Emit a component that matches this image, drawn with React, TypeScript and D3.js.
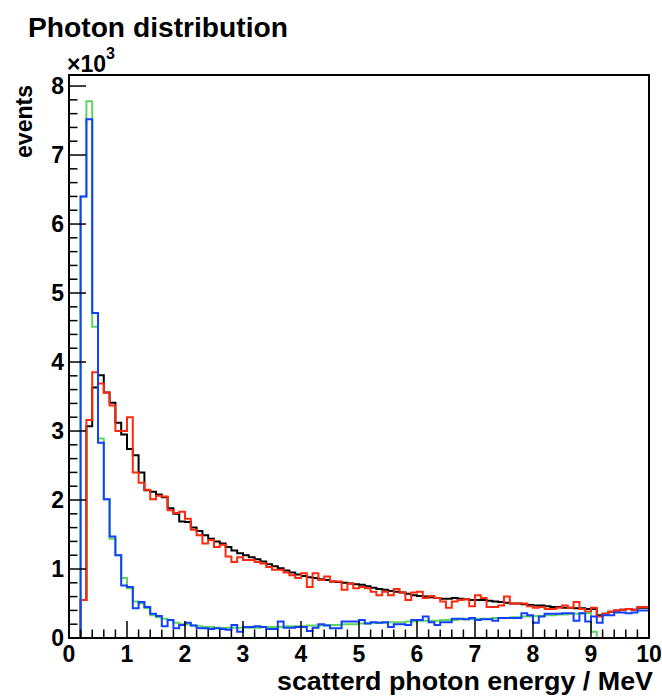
import React from "react";
import * as d3 from "d3";

// Histogram: 100 bins of 0.1 MeV from 0 to 10 MeV; values in thousands of events
const binWidth = 0.1;
const xDomain = [0, 10];
const yDomain = [0, 8.16];
const xTicks = [0, 1, 2, 3, 4, 5, 6, 7, 8, 9, 10];
const yTicks = [0, 1, 2, 3, 4, 5, 6, 7, 8];

const blackValues = [
  0, 0, 0.55, 3.07, 3.63, 3.81, 3.56, 3.41, 3.12, 2.95,
  2.74, 2.65, 2.4, 2.14, 2.12, 2.08, 2.04, 1.88, 1.8, 1.69,
  1.68, 1.6, 1.55, 1.49, 1.44, 1.4, 1.37, 1.32, 1.27, 1.23,
  1.2, 1.17, 1.14, 1.11, 1.07, 1.04, 1.01, 0.98, 0.95, 0.92,
  0.9, 0.88, 0.87, 0.85, 0.84, 0.82, 0.81, 0.8, 0.79, 0.78,
  0.77, 0.75, 0.73, 0.71, 0.7, 0.68, 0.67, 0.66, 0.64, 0.62,
  0.61, 0.6, 0.59, 0.58, 0.57, 0.57, 0.58, 0.57, 0.56, 0.55,
  0.55, 0.55, 0.54, 0.53, 0.52, 0.51, 0.5, 0.5, 0.49, 0.48,
  0.47, 0.47, 0.46, 0.45, 0.45, 0.44, 0.44, 0.43, 0.43, 0.42,
  0.42, 0.33, 0.35, 0.38, 0.4, 0.41, 0.42, 0.41, 0.44, 0.44,
];

const redValues = [
  0, 0, 0.55, 3.16, 3.85, 3.69, 3.56, 3.37, 3.0, 3.0,
  3.2, 2.4, 2.25, 2.15, 2.01, 2.06, 2.05, 1.85, 1.81, 1.83,
  1.73, 1.57, 1.49, 1.37, 1.42, 1.32, 1.35, 1.18, 1.1, 1.17,
  1.13, 1.13, 1.1, 1.08, 1.03, 0.99, 0.99, 0.95, 0.91, 0.87,
  0.94, 0.74, 0.94, 0.84, 0.89, 0.82, 0.82, 0.7, 0.79, 0.72,
  0.74, 0.72, 0.67, 0.62, 0.67, 0.62, 0.71, 0.66, 0.55, 0.66,
  0.67, 0.58, 0.61, 0.58, 0.53, 0.44, 0.53, 0.55, 0.56, 0.46,
  0.62, 0.58, 0.45, 0.45, 0.47, 0.6, 0.5, 0.5, 0.5, 0.46,
  0.44, 0.45, 0.42, 0.42, 0.44, 0.47, 0.44, 0.52, 0.42, 0.38,
  0.44, 0.31, 0.35, 0.38, 0.4, 0.41, 0.42, 0.41, 0.45, 0.45,
];

const greenValues = [
  0, 0, 6.4, 7.78, 4.51, 2.89, 2.01, 1.44, 1.2, 0.87,
  0.72, 0.53, 0.5, 0.43, 0.33, 0.3, 0.28, 0.26, 0.22, 0.2,
  0.2, 0.18, 0.17, 0.16, 0.16, 0.15, 0.15, 0.15, 0.15, 0.15,
  0.15, 0.15, 0.15, 0.16, 0.16, 0.16, 0.16, 0.17, 0.17, 0.17,
  0.17, 0.18, 0.18, 0.18, 0.19, 0.19, 0.19, 0.2, 0.2, 0.2,
  0.21, 0.21, 0.22, 0.22, 0.22, 0.23, 0.23, 0.23, 0.24, 0.24,
  0.25, 0.25, 0.25, 0.25, 0.26, 0.26, 0.26, 0.27, 0.27, 0.27,
  0.28, 0.28, 0.28, 0.29, 0.29, 0.29, 0.3, 0.3, 0.31, 0.31,
  0.32, 0.32, 0.33, 0.33, 0.34, 0.34, 0.35, 0.35, 0.36, 0.36,
  0.09, 0, 0, 0, 0, 0, 0, 0, 0, 0,
];

const blueValues = [
  0, 0, 6.4, 7.52, 4.71, 2.83, 2.01, 1.47, 1.2, 0.76,
  0.74, 0.43, 0.52, 0.45, 0.35, 0.32, 0.17, 0.26, 0.14, 0.19,
  0.22, 0.18, 0.14, 0.14, 0.13, 0.14, 0.13, 0.12, 0.19, 0.09,
  0.16, 0.16, 0.17, 0.16, 0.13, 0.13, 0.24, 0.15, 0.15, 0.16,
  0.16, 0.1, 0.15, 0.2, 0.18, 0.14, 0.14, 0.24, 0.24, 0.24,
  0.26, 0.21, 0.23, 0.22, 0.23, 0.16, 0.2, 0.2, 0.19, 0.26,
  0.26, 0.31, 0.23, 0.19, 0.23, 0.23, 0.28, 0.28, 0.27, 0.29,
  0.26, 0.27, 0.27, 0.25, 0.29, 0.29, 0.29, 0.29, 0.36, 0.33,
  0.22, 0.31, 0.35, 0.35, 0.35, 0.36, 0.36, 0.25, 0.36, 0.24,
  0.31, 0.22, 0.33, 0.33, 0.37, 0.37, 0.36, 0.37, 0.4, 0.4,
];

const seriesList = [
  { name: "black", values: blackValues, color: "#000000" },
  { name: "red", values: redValues, color: "#ff2a0e" },
  { name: "green", values: greenValues, color: "#5ed65e" },
  { name: "blue", values: blueValues, color: "#1240ff" },
];

const W = 662;
const H = 696;
const frame = { left: 69, right: 649, top: 75, bottom: 638 };
const FONT = "'Liberation Sans', Arial, Helvetica, sans-serif";

export default function App() {
  const x = d3.scaleLinear().domain(xDomain).range([frame.left, frame.right]);
  const y = d3.scaleLinear().domain(yDomain).range([frame.bottom, frame.top]);

  const line = d3
    .line<[number, number]>()
    .x((d) => x(d[0]))
    .y((d) => y(d[1]));

  const stepPath = (values: number[]) => {
    const pts: [number, number][] = [[0, 0]];
    values.forEach((v, i) => {
      pts.push([i * binWidth, v]);
      pts.push([(i + 1) * binWidth, v]);
    });
    pts.push([values.length * binWidth, 0]);
    return line(pts) || "";
  };

  const majorLen = 17;
  const minorLen = 8.5;

  const xMinor: number[] = [];
  for (let i = 0; i < xTicks.length - 1; i++) {
    for (let k = 1; k < 5; k++) xMinor.push(xTicks[i] + (k * (xTicks[i + 1] - xTicks[i])) / 5);
  }
  const yMinor: number[] = [];
  for (let i = 0; i < yTicks.length; i++) {
    for (let k = 1; k < 5; k++) {
      const v = yTicks[i] + k * 0.2;
      if (v <= yDomain[1]) yMinor.push(v);
    }
  }

  return (
    <svg
      width={W}
      height={H}
      style={{ position: "absolute", left: 0, top: 0, background: "#fff" }}
      fontFamily={FONT}
      fontWeight="bold"
    >
      <rect x={0} y={0} width={W} height={H} fill="#fff" />
      <defs>
        <clipPath id="frameClip">
          <rect
            x={frame.left}
            y={frame.top}
            width={frame.right - frame.left}
            height={frame.bottom - frame.top}
          />
        </clipPath>
      </defs>

      <g clipPath="url(#frameClip)">
        {seriesList.map((s) => (
          <path
            key={s.name}
            d={stepPath(s.values)}
            fill="none"
            stroke={s.color}
            strokeWidth={2}
            strokeLinejoin="miter"
          />
        ))}
      </g>

      {/* x ticks */}
      {xTicks.map((t) => (
        <line
          key={"xt" + t}
          x1={x(t)}
          x2={x(t)}
          y1={frame.bottom}
          y2={frame.bottom - majorLen}
          stroke="#000"
          strokeWidth={1.5}
        />
      ))}
      {xMinor.map((t, i) => (
        <line
          key={"xm" + i}
          x1={x(t)}
          x2={x(t)}
          y1={frame.bottom}
          y2={frame.bottom - minorLen}
          stroke="#000"
          strokeWidth={1.5}
        />
      ))}
      {/* y ticks */}
      {yTicks.map((t) => (
        <line
          key={"yt" + t}
          x1={frame.left}
          x2={frame.left + majorLen}
          y1={y(t)}
          y2={y(t)}
          stroke="#000"
          strokeWidth={1.5}
        />
      ))}
      {yMinor.map((t, i) => (
        <line
          key={"ym" + i}
          x1={frame.left}
          x2={frame.left + minorLen}
          y1={y(t)}
          y2={y(t)}
          stroke="#000"
          strokeWidth={1.5}
        />
      ))}

      <rect
        x={frame.left}
        y={frame.top}
        width={frame.right - frame.left}
        height={frame.bottom - frame.top}
        fill="none"
        stroke="#000"
        strokeWidth={2}
      />

      {/* tick labels */}
      {xTicks.map((t) => (
        <text key={"xl" + t} x={x(t)} y={662} fontSize={23} textAnchor="middle">
          {t}
        </text>
      ))}
      {yTicks.map((t) => (
        <text key={"yl" + t} x={64} y={y(t) + 8} fontSize={23} textAnchor="end">
          {t}
        </text>
      ))}

      {/* exponent */}
      <text x={67} y={72} fontSize={23}>
        ×10
        <tspan dy={-13} fontSize={16}>
          3
        </tspan>
      </text>

      {/* axis titles */}
      <text
        x={277}
        y={690}
        fontSize={25}
        textLength={376}
        lengthAdjust="spacingAndGlyphs"
      >
        scatterd photon energy / MeV
      </text>
      <text
        transform="translate(32,158) rotate(-90)"
        fontSize={23}
        textLength={73}
        lengthAdjust="spacingAndGlyphs"
      >
        events
      </text>

      {/* title */}
      <text x={28} y={37} fontSize={27} textLength={260} lengthAdjust="spacingAndGlyphs">
        Photon distribution
      </text>
    </svg>
  );
}
